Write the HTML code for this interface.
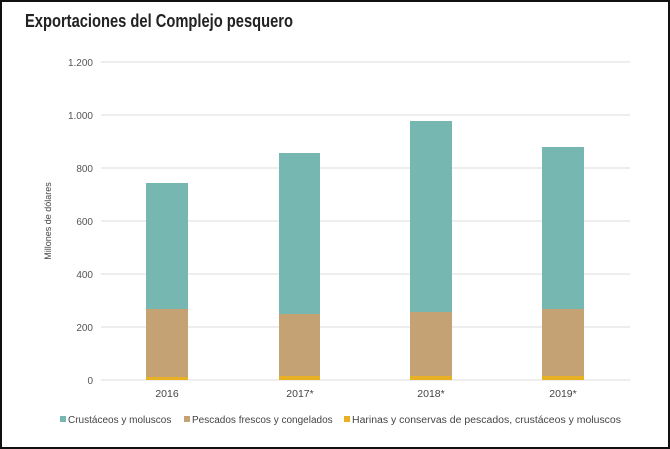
<!DOCTYPE html>
<html><head><meta charset="utf-8"><style>
body{margin:0;background:#fff;}
.wrap{position:relative;width:666px;height:445px;border:2px solid #111;overflow:hidden;}
</style></head><body><div class="wrap">
<svg width="666" height="445" viewBox="2 2 666 445" xmlns="http://www.w3.org/2000/svg" style="position:absolute;left:0;top:0">
<text x="25" y="27" font-family="Liberation Sans Narrow, Liberation Sans, sans-serif" font-weight="bold" font-size="18" fill="#222" textLength="268" lengthAdjust="spacingAndGlyphs">Exportaciones del Complejo pesquero</text>
<g stroke="#e3e3e3" stroke-width="1.2">
<line x1="101" x2="630" y1="62" y2="62"/><line x1="101" x2="630" y1="115" y2="115"/>
<line x1="101" x2="630" y1="168" y2="168"/><line x1="101" x2="630" y1="221" y2="221"/>
<line x1="101" x2="630" y1="274" y2="274"/><line x1="101" x2="630" y1="327" y2="327"/>
<line x1="101" x2="630" y1="380" y2="380"/>
</g>
<g font-family="Liberation Sans, sans-serif" font-size="10" fill="#555" text-anchor="end">
<text x="93" y="66">1.200</text><text x="93" y="119">1.000</text><text x="93" y="172">800</text>
<text x="93" y="225">600</text><text x="93" y="278">400</text><text x="93" y="331">200</text><text x="93" y="384">0</text>
</g>
<text transform="translate(51,221) rotate(-90)" font-family="Liberation Sans, sans-serif" font-size="9" fill="#444" text-anchor="middle">Millones de dólares</text>
<g>
<rect x="146" y="183" width="42" height="126" fill="#76b7b2"/><rect x="146" y="309" width="42" height="68" fill="#c4a273"/><rect x="146" y="377" width="42" height="3" fill="#e8b023"/>
<rect x="279" y="153" width="41" height="161" fill="#76b7b2"/><rect x="279" y="314" width="41" height="62" fill="#c4a273"/><rect x="279" y="376" width="41" height="4" fill="#e8b023"/>
<rect x="410" y="121" width="42" height="191" fill="#76b7b2"/><rect x="410" y="312" width="42" height="64" fill="#c4a273"/><rect x="410" y="376" width="42" height="4" fill="#e8b023"/>
<rect x="542" y="147" width="42" height="162" fill="#76b7b2"/><rect x="542" y="309" width="42" height="67" fill="#c4a273"/><rect x="542" y="376" width="42" height="4" fill="#e8b023"/>
</g>
<g font-family="Liberation Sans, sans-serif" font-size="10.5" fill="#444" text-anchor="middle">
<text x="167" y="397">2016</text><text x="300" y="397">2017*</text><text x="431" y="397">2018*</text><text x="563" y="397">2019*</text>
</g>
<g font-family="Liberation Sans, sans-serif" font-size="10" fill="#444">
<rect x="60" y="416" width="6" height="6" fill="#76b7b2"/><text x="68" y="423">Crustáceos y moluscos</text>
<rect x="184" y="416" width="6" height="6" fill="#c4a273"/><text x="192" y="423">Pescados frescos y congelados</text>
<rect x="344" y="416" width="6" height="6" fill="#e8b023"/><text x="352" y="423" textLength="269" lengthAdjust="spacingAndGlyphs">Harinas y conservas de pescados, crustáceos y moluscos</text>
</g>
</svg>
</div></body></html>
